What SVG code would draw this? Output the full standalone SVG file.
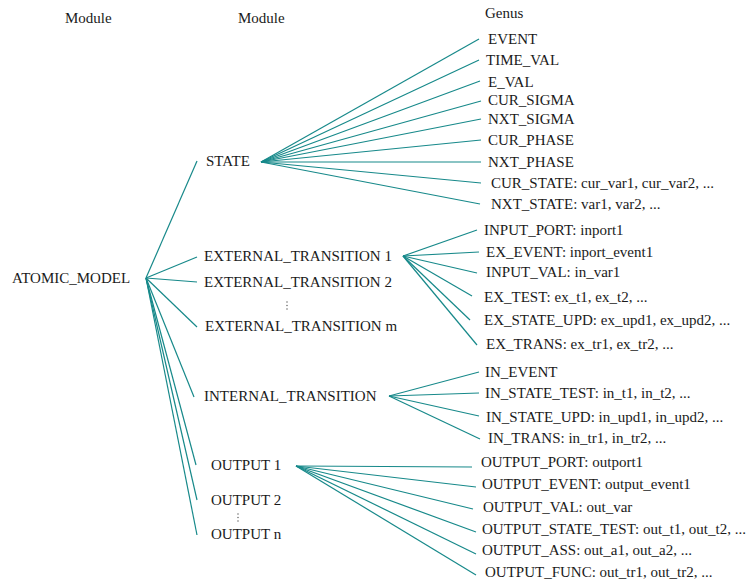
<svg xmlns="http://www.w3.org/2000/svg" width="754" height="588" viewBox="0 0 754 588">
  <style>
    text { font-family: "Liberation Serif", "Times New Roman", serif; font-size: 15px; fill: #1a1a1a; }
    .edge { stroke: #17898a; stroke-width: 1.2; fill: none; }
    .dots { fill: #555; }
  </style>
  <rect width="754" height="588" fill="#ffffff"/>

  <!-- column headings -->
  <g id="headings">
    <text x="65" y="23">Module</text>
    <text x="238" y="23">Module</text>
    <text x="485" y="18">Genus</text>
  </g>

  <!-- connectors -->
  <g id="connectors" class="edge">
    <!-- ATOMIC_MODEL to modules -->
    <path d="M146 278 L197 161"/>
    <path d="M146 278 L197 257"/>
    <path d="M146 278 L197 282"/>
    <path d="M146 278 L197 327"/>
    <path d="M146 278 L194 397"/>
    <path d="M146 278 L196 465"/>
    <path d="M146 278 L197 500"/>
    <path d="M146 278 L197 535"/>
    <!-- STATE genus -->
    <path d="M261 162 L479 39"/>
    <path d="M261 162 L479 60"/>
    <path d="M261 162 L480 81"/>
    <path d="M261 162 L481 101"/>
    <path d="M261 162 L481 119"/>
    <path d="M261 162 L481 140"/>
    <path d="M261 162 L481 162"/>
    <path d="M261 162 L481 183"/>
    <path d="M261 162 L480 204"/>
    <!-- EXTERNAL_TRANSITION 1 genus -->
    <path d="M403 256 L477 230"/>
    <path d="M403 256 L479 252"/>
    <path d="M403 256 L477 273"/>
    <path d="M403 256 L472 296"/>
    <path d="M403 256 L470 320"/>
    <path d="M403 256 L477 345"/>
    <!-- INTERNAL_TRANSITION genus -->
    <path d="M389 396 L479 372"/>
    <path d="M389 396 L479 393"/>
    <path d="M389 396 L479 416"/>
    <path d="M389 396 L480 439"/>
    <!-- OUTPUT 1 genus -->
    <path d="M296 466 L472 467"/>
    <path d="M296 466 L476 487"/>
    <path d="M296 466 L473 509"/>
    <path d="M296 466 L476 532"/>
    <path d="M296 466 L476 554"/>
    <path d="M296 466 L476 575"/>
  </g>

  <!-- root -->
  <g id="atomic_model"><text x="12" y="283">ATOMIC_MODEL</text></g>

  <!-- modules -->
  <g id="state"><text x="206" y="166">STATE</text></g>
  <g id="ext_transition_1"><text x="204" y="261">EXTERNAL_TRANSITION 1</text></g>
  <g id="ext_transition_2"><text x="204" y="287">EXTERNAL_TRANSITION 2</text></g>
  <g id="ext_ellipsis" class="dots">
    <circle cx="287" cy="302" r="0.7"/><circle cx="287" cy="305.5" r="0.7"/><circle cx="287" cy="309" r="0.7"/>
  </g>
  <g id="ext_transition_m"><text x="205" y="331">EXTERNAL_TRANSITION m</text></g>
  <g id="int_transition"><text x="204" y="401">INTERNAL_TRANSITION</text></g>
  <g id="output_1"><text x="211" y="470">OUTPUT 1</text></g>
  <g id="output_2"><text x="211" y="505">OUTPUT 2</text></g>
  <g id="output_ellipsis" class="dots">
    <circle cx="238" cy="514" r="0.7"/><circle cx="238" cy="517.5" r="0.7"/><circle cx="238" cy="521" r="0.7"/>
  </g>
  <g id="output_n"><text x="211" y="539">OUTPUT n</text></g>

  <!-- STATE genus -->
  <g id="g_event"><text x="488" y="44">EVENT</text></g>
  <g id="g_time_val"><text x="486" y="65">TIME_VAL</text></g>
  <g id="g_e_val"><text x="488" y="87">E_VAL</text></g>
  <g id="g_cur_sigma"><text x="488" y="105">CUR_SIGMA</text></g>
  <g id="g_nxt_sigma"><text x="488" y="124">NXT_SIGMA</text></g>
  <g id="g_cur_phase"><text x="488" y="145">CUR_PHASE</text></g>
  <g id="g_nxt_phase"><text x="488" y="167">NXT_PHASE</text></g>
  <g id="g_cur_state"><text x="491" y="188">CUR_STATE: cur_var1, cur_var2, ...</text></g>
  <g id="g_nxt_state"><text x="491" y="209">NXT_STATE: var1, var2, ...</text></g>

  <!-- EXTERNAL_TRANSITION genus -->
  <g id="g_input_port"><text x="484" y="235">INPUT_PORT: inport1</text></g>
  <g id="g_ex_event"><text x="486" y="257">EX_EVENT: inport_event1</text></g>
  <g id="g_input_val"><text x="486" y="277">INPUT_VAL: in_var1</text></g>
  <g id="g_ex_test"><text x="484" y="302">EX_TEST: ex_t1, ex_t2, ...</text></g>
  <g id="g_ex_state_upd"><text x="484" y="325">EX_STATE_UPD: ex_upd1, ex_upd2, ...</text></g>
  <g id="g_ex_trans"><text x="486" y="349">EX_TRANS: ex_tr1, ex_tr2, ...</text></g>

  <!-- INTERNAL_TRANSITION genus -->
  <g id="g_in_event"><text x="485" y="377">IN_EVENT</text></g>
  <g id="g_in_state_test"><text x="485" y="398">IN_STATE_TEST: in_t1, in_t2, ...</text></g>
  <g id="g_in_state_upd"><text x="486" y="422">IN_STATE_UPD: in_upd1, in_upd2, ...</text></g>
  <g id="g_in_trans"><text x="488" y="443">IN_TRANS: in_tr1, in_tr2, ...</text></g>

  <!-- OUTPUT genus -->
  <g id="g_output_port"><text x="481" y="467">OUTPUT_PORT: outport1</text></g>
  <g id="g_output_event"><text x="482" y="489">OUTPUT_EVENT: output_event1</text></g>
  <g id="g_output_val"><text x="483" y="512">OUTPUT_VAL: out_var</text></g>
  <g id="g_output_state_test"><text x="482" y="534">OUTPUT_STATE_TEST: out_t1, out_t2, ...</text></g>
  <g id="g_output_ass"><text x="482" y="555">OUTPUT_ASS: out_a1, out_a2, ...</text></g>
  <g id="g_output_func"><text x="485" y="577">OUTPUT_FUNC: out_tr1, out_tr2, ...</text></g>
</svg>
